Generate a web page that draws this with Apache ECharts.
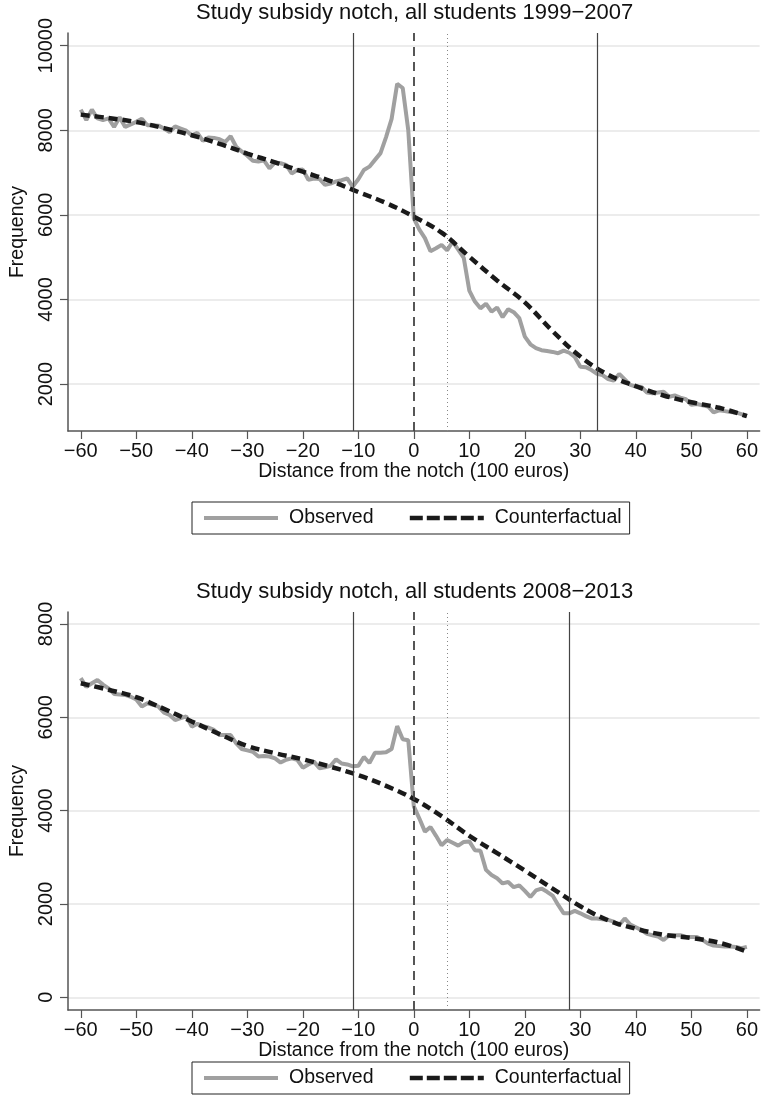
<!DOCTYPE html>
<html><head><meta charset="utf-8">
<script src="https://cdn.jsdelivr.net/npm/echarts@6/dist/echarts.min.js"></script>
<style>html,body{margin:0;padding:0;background:#fff}#c{width:761px;height:1113px}</style>
</head><body><div id="c"></div>
<script>
// ---------- data ----------
const titleTop = "Study subsidy notch, all students 1999\u22122007";
const titleBottom = "Study subsidy notch, all students 2008\u22122013";
const xName = "Distance from the notch (100 euros)";
const yName = "Frequency";
const seriesNames = ["Observed", "Counterfactual"];

const xTicks = [-60, -50, -40, -30, -20, -10, 0, 10, 20, 30, 40, 50, 60];
const yTicksTop = [2000, 4000, 6000, 8000, 10000];
const yTicksBottom = [0, 2000, 4000, 6000, 8000];

// bins: distance from the notch, -60 ... 60 (100 euros)
const binFirst = -60, binLast = 60;

const observedTop = [
  8490, 8240, 8490, 8280, 8240, 8280, 8080, 8310, 8080, 8140,
  8200, 8270, 8120, 8120, 8110, 8040, 7960, 8090, 8040, 7990,
  7880, 7940, 7750, 7830, 7820, 7790, 7720, 7860, 7610, 7500,
  7400, 7280, 7260, 7290, 7100, 7240, 7220, 7180, 6980, 7060,
  7070, 6830, 6860, 6850, 6710, 6740, 6790, 6820, 6860, 6670,
  6840, 7060, 7140, 7300, 7460, 7840, 8270, 9100, 9000, 8000,
  5920,
  5650, 5450, 5140, 5210, 5290, 5160, 5370, 5180, 4980, 4210,
  3950, 3790, 3900, 3710, 3810, 3580, 3770, 3700, 3560, 3120,
  2940, 2850, 2800, 2780, 2760, 2730, 2790, 2740, 2640, 2410,
  2400, 2330, 2240, 2210, 2120, 2080, 2240, 2110, 1980, 1940,
  1930, 1800, 1780, 1800, 1820, 1700, 1730, 1680, 1640, 1510,
  1530, 1500, 1470, 1330, 1380, 1360, 1340, 1330, 1290, 1250
];
const observedBottom = [
  6840, 6650, 6730, 6800, 6700, 6620, 6500, 6490, 6480, 6440,
  6380, 6230, 6300, 6270, 6230, 6100, 6050, 5940, 5980, 6020,
  5800, 5860, 5810, 5780, 5730, 5620, 5620, 5620, 5440, 5320,
  5290, 5260, 5160, 5170, 5160, 5120, 5030, 5090, 5120, 5090,
  4920, 4990, 5050, 4910, 4930, 4960, 5100, 5010, 4990, 4950,
  4960, 5150, 5020, 5240, 5240, 5250, 5320, 5810, 5530, 5510,
  4090,
  3830, 3550, 3650, 3460, 3260, 3370, 3310, 3250, 3330, 3340,
  3150, 3140, 2730, 2620, 2550, 2440, 2470, 2360, 2400, 2280,
  2150, 2290, 2330, 2260, 2180, 1980, 1800, 1800, 1850, 1800,
  1740, 1690, 1690, 1670, 1660, 1620, 1550, 1690, 1560, 1500,
  1440, 1360, 1330, 1300, 1230, 1330, 1330, 1330, 1300, 1290,
  1290, 1230, 1150, 1110, 1100, 1090, 1090, 1080, 1050, 1080
];

const cfX = [-60, -55, -50, -45, -40, -35, -30, -25, -20, -15, -10, -5, 0, 5, 10, 15, 20, 25, 30, 35, 40, 45, 50, 55, 60];
const counterfactualTop = [8370, 8290, 8195, 8050, 7882, 7680, 7450, 7240, 7020, 6800, 6540, 6280, 5960, 5580, 5010, 4450, 3930, 3250, 2650, 2220, 1950, 1730, 1570, 1440, 1240];
const counterfactualBottom = [6730, 6590, 6430, 6180, 5910, 5640, 5386, 5230, 5100, 4940, 4760, 4530, 4250, 3880, 3460, 3090, 2715, 2330, 1950, 1650, 1470, 1340, 1270, 1170, 980];

// reference lines (x positions)
const solidLinesTop = [-11, 33];
const solidLinesBottom = [-11, 28];
const notchLine = [0];
const dottedLine = [6];

// ---------- build ----------
const FONT = "'Liberation Sans', Arial, Helvetica, sans-serif";
const bins = [];
for (let b = binFirst; b <= binLast; b++) bins.push(b);
const pair = (xs, ys) => xs.map((x, i) => [x, ys[i]]);
const minus = v => String(v).replace('-', '\u2212');

function xAxisOf(gi) {
  return {
    type: 'value', gridIndex: gi, min: -62.3, max: 62.3,
    axisLine: { show: true, onZero: false, lineStyle: { color: '#555', width: 1.5 } },
    axisTick: { show: true, customValues: xTicks, length: 8, lineStyle: { color: '#555', width: 1.2 } },
    axisLabel: { customValues: xTicks, formatter: minus, fontSize: 20, color: '#111', margin: 10, fontFamily: FONT },
    splitLine: { show: false },
    name: xName, nameLocation: 'middle', nameGap: 31,
    nameTextStyle: { fontSize: 19.5, color: '#111', fontFamily: FONT }
  };
}
function yAxisOf(gi, min, max, ticks) {
  return {
    type: 'value', gridIndex: gi, min: min, max: max,
    axisLine: { show: true, onZero: false, lineStyle: { color: '#555', width: 1.5 } },
    axisTick: { show: true, customValues: ticks, length: 8, lineStyle: { color: '#555', width: 1.2 } },
    axisLabel: { customValues: ticks, formatter: v => String(v), rotate: 90, fontSize: 20, color: '#111', margin: 12, fontFamily: FONT },
    splitLine: { show: true, lineStyle: { color: '#e6e6e6', width: 1.5 } },
    name: yName, nameLocation: 'middle', nameGap: 32,
    nameTextStyle: { fontSize: 19.5, color: '#111', fontFamily: FONT }
  };
}
function refSeries(gi, solids) {
  const data = [];
  solids.forEach(v => data.push({ xAxis: v, lineStyle: { color: '#444', width: 1.2, type: 'solid' } }));
  notchLine.forEach(v => data.push({ xAxis: v, lineStyle: { color: '#444', width: 1.8, type: [9, 6] } }));
  dottedLine.forEach(v => data.push({ xAxis: v, lineStyle: { color: '#888', width: 1, type: [1, 3] } }));
  return {
    type: 'line', name: 'ref' + gi, xAxisIndex: gi, yAxisIndex: gi, data: [], z: 1, silent: true,
    markLine: { silent: true, symbol: 'none', label: { show: false }, animation: false, data: data }
  };
}
function obsSeries(gi, ys) {
  return {
    type: 'line', name: seriesNames[0], xAxisIndex: gi, yAxisIndex: gi, data: pair(bins, ys),
    symbol: 'none', z: 3, lineStyle: { color: '#a0a0a0', width: 4 }, itemStyle: { color: '#a0a0a0' }
  };
}
function cfSeries(gi, ys) {
  return {
    type: 'line', name: seriesNames[1], xAxisIndex: gi, yAxisIndex: gi, data: pair(cfX, ys),
    symbol: 'none', smooth: 0.4, z: 4, lineStyle: { color: '#1a1a1a', width: 4.5, type: [9, 5] }, itemStyle: { color: '#1a1a1a' }
  };
}
function legendOf(top) {
  return {
    data: [
      { name: seriesNames[0], lineStyle: { width: 4, type: 'solid' } },
      { name: seriesNames[1], lineStyle: { width: 4.5, type: [13, 4] } }
    ],
    left: 192, top: top, orient: 'horizontal',
    borderColor: '#222', borderWidth: 1, padding: [6, 8, 6, 10],
    itemWidth: 74, itemHeight: 14, itemGap: 34,
    itemStyle: { color: 'transparent', borderColor: 'transparent', borderWidth: 0, opacity: 0 },
    textStyle: { fontSize: 19.5, color: '#111', fontFamily: FONT, padding: [0, 0, 0, 6] },
    selectedMode: false
  };
}

const chart = echarts.init(document.getElementById('c'), null, { renderer: 'canvas' });
chart.setOption({
  animation: false,
  backgroundColor: '#fff',
  title: [
    { text: titleTop, left: 196, top: 2, padding: 0, textStyle: { fontSize: 22, fontWeight: 'normal', color: '#111', fontFamily: FONT } },
    { text: titleBottom, left: 196, top: 581, padding: 0, textStyle: { fontSize: 22, fontWeight: 'normal', color: '#111', fontFamily: FONT } }
  ],
  legend: [legendOf(502), legendOf(1062)],
  grid: [
    { left: 68, top: 33, width: 693, height: 398 },
    { left: 68, top: 612, width: 693, height: 398 }
  ],
  xAxis: [xAxisOf(0), xAxisOf(1)],
  yAxis: [yAxisOf(0, 890, 10300, yTicksTop), yAxisOf(1, -272, 8256, yTicksBottom)],
  series: [
    refSeries(0, solidLinesTop), obsSeries(0, observedTop), cfSeries(0, counterfactualTop),
    refSeries(1, solidLinesBottom), obsSeries(1, observedBottom), cfSeries(1, counterfactualBottom)
  ]
});
</script>
</body></html>
